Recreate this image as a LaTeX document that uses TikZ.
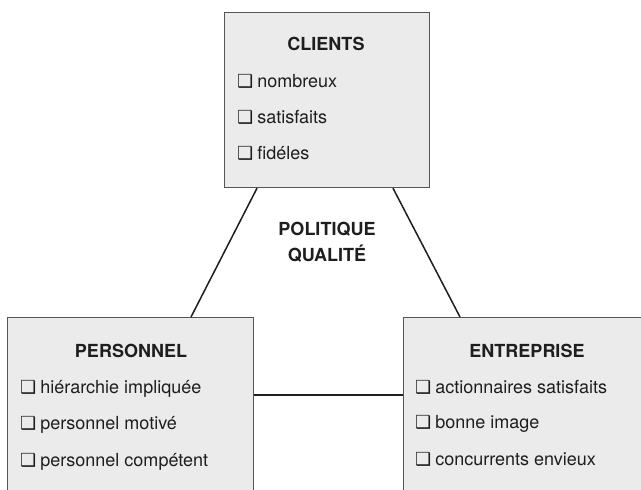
\documentclass[tikz,border=0pt]{standalone}
\usepackage{fontspec}
\setmainfont{TeX Gyre Heros}
\newfontfamily\dingfont{DejaVu Sans}
\definecolor{boxfill}{HTML}{EBEBEB}
\definecolor{boxline}{HTML}{555555}
\definecolor{ink}{HTML}{1E1E1E}
\newcommand{\caseitem}{{\dingfont\fontsize{18}{18}\selectfont ❑}\hspace{4pt}}

\begin{document}
\begin{tikzpicture}[x=1pt, y=1pt,
    pole/.style={draw=boxline, line width=1.2pt, fill=boxfill, anchor=north west, inner sep=0pt},
    titre/.style={font=\bfseries\fontsize{18}{26}\selectfont, text=ink, anchor=base, inner sep=0pt, align=center},
    item/.style={font=\fontsize{18}{18}\selectfont, text=ink, anchor=base west, inner sep=0pt},
    lien/.style={draw=ink, line width=1.5pt}]

\clip (0,0) rectangle (641,-490);

%pôles

\node[pole, minimum width=205pt, minimum height=175pt] (clients) at (224,-12) {};
\node[pole, minimum width=246pt, minimum height=200pt] (personnel) at (7,-317) {};
\node[pole, minimum width=260pt, minimum height=200pt] (entreprise) at (403,-317) {};

%liens

\draw[lien] ([xshift=33]clients.south west) -- ([xshift=184]personnel.north west);
\draw[lien] ([xshift=169]clients.south west) -- ([xshift=57]entreprise.north west);
\draw[lien] ([yshift=-78]personnel.north east) -- ([yshift=-78]entreprise.north west);

%textes

\node[titre] (politique) at (327,-261) {POLITIQUE\\QUALITÉ};

\node[titre] (tclients) at (326,-50) {CLIENTS};
\node[item] (c1) at (237,-87) {\caseitem nombreux};
\node[item] (c2) at (237,-123) {\caseitem satisfaits};
\node[item] (c3) at (237,-159) {\caseitem fidéles};

\node[titre] (tpersonnel) at (131,-357) {PERSONNEL};
\node[item] (p1) at (20,-393) {\caseitem hiérarchie impliquée};
\node[item] (p2) at (20,-429) {\caseitem personnel motivé};
\node[item] (p3) at (20,-466) {\caseitem personnel compétent};

\node[titre] (tentreprise) at (527,-357) {ENTREPRISE};
\node[item] (e1) at (415,-393) {\caseitem actionnaires satisfaits};
\node[item] (e2) at (415,-428) {\caseitem bonne image};
\node[item] (e3) at (415,-465) {\caseitem concurrents envieux};
\end{tikzpicture}
\end{document}
